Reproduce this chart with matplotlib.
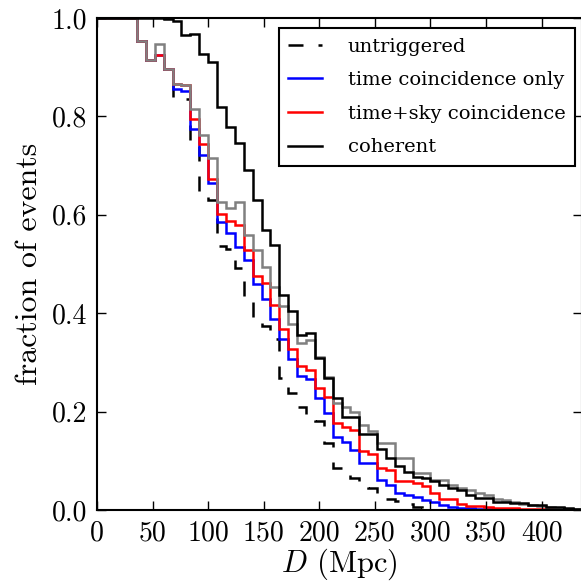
import numpy as np
import matplotlib
matplotlib.use('Agg')
import matplotlib.pyplot as plt

plt.rcParams['font.family'] = 'cmr10'
plt.rcParams['mathtext.fontset'] = 'cm'
plt.rcParams['axes.formatter.use_mathtext'] = True
plt.rcParams['lines.scale_dashes'] = False

# bin edges in Mpc (8 Mpc bins starting at 36 Mpc)
edges = np.arange(36, 437, 8)

# fraction of events still above threshold per bin
untriggered = [0.953, 0.914, 0.924, 0.897, 0.839, 0.835, 0.745, 0.637, 0.630, 0.537,
               0.531, 0.491, 0.425, 0.392, 0.375, 0.347, 0.268, 0.238, 0.209, 0.192,
               0.181, 0.136, 0.086, 0.075, 0.065, 0.052, 0.045, 0.028, 0.023, 0.019,
               0.012, 0.007, 0.004, 0.0, 0.0, 0.0, 0.0, 0.0, 0.0, 0.0,
               0.0, 0.0, 0.0, 0.0, 0.0, 0.0, 0.0, 0.0, 0.0, 0.0]
time_only = [0.953, 0.914, 0.924, 0.897, 0.855, 0.851, 0.774, 0.722, 0.665, 0.586,
             0.564, 0.535, 0.508, 0.459, 0.428, 0.388, 0.347, 0.306, 0.272, 0.266,
             0.227, 0.198, 0.149, 0.139, 0.122, 0.095, 0.095, 0.061, 0.050, 0.034,
             0.030, 0.027, 0.020, 0.016, 0.010, 0.007, 0.005, 0.004, 0.003, 0.002,
             0.001, 0.001, 0.0, 0.0, 0.0, 0.0, 0.0, 0.0, 0.0, 0.0]
time_sky = [0.953, 0.914, 0.924, 0.897, 0.866, 0.863, 0.794, 0.743, 0.673, 0.602,
            0.587, 0.579, 0.528, 0.475, 0.462, 0.417, 0.367, 0.327, 0.293, 0.285,
            0.247, 0.229, 0.176, 0.168, 0.163, 0.119, 0.114, 0.085, 0.081, 0.059,
            0.058, 0.054, 0.049, 0.034, 0.022, 0.022, 0.012, 0.008, 0.008, 0.006,
            0.005, 0.004, 0.004, 0.003, 0.002, 0.002, 0.002, 0.001, 0.001, 0.0]
gray_curve = [0.953, 0.914, 0.948, 0.897, 0.866, 0.863, 0.816, 0.762, 0.716, 0.627,
              0.613, 0.627, 0.559, 0.528, 0.494, 0.454, 0.414, 0.379, 0.339, 0.346,
              0.312, 0.270, 0.217, 0.210, 0.200, 0.173, 0.161, 0.136, 0.136, 0.105,
              0.105, 0.075, 0.075, 0.061, 0.061, 0.050, 0.044, 0.040, 0.034, 0.030,
              0.022, 0.020, 0.016, 0.013, 0.010, 0.009, 0.006, 0.005, 0.003, 0.002]
coherent = [1.0, 1.0, 1.0, 0.997, 0.993, 0.965, 0.968, 0.927, 0.911, 0.819,
            0.778, 0.745, 0.691, 0.630, 0.570, 0.539, 0.436, 0.404, 0.356, 0.360,
            0.308, 0.268, 0.227, 0.190, 0.190, 0.154, 0.154, 0.123, 0.105, 0.090,
            0.078, 0.068, 0.066, 0.058, 0.051, 0.044, 0.041, 0.030, 0.024, 0.024,
            0.017, 0.017, 0.014, 0.014, 0.010, 0.010, 0.007, 0.007, 0.005, 0.003]

xticks = [0, 50, 100, 150, 200, 250, 300, 350, 400]
yticks = [0.0, 0.2, 0.4, 0.6, 0.8, 1.0]

# everything is 1 below the first edge
full_edges = np.concatenate([[0], edges])

fig = plt.figure(figsize=(5.81, 5.83), dpi=100)
ax = fig.add_axes([0.167, 0.1252, 0.834, 0.8439])

lw = 1.8
ax.stairs([1.0] + untriggered, full_edges, baseline=None, color='k', lw=lw,
          linestyle=(0, (10.8, 10.8)), label='untriggered')
ax.stairs([1.0] + time_only, full_edges, baseline=None, color='b', lw=lw,
          label='time coincidence only')
ax.stairs([1.0] + time_sky, full_edges, baseline=None, color='r', lw=lw,
          label='time+sky coincidence')
ax.stairs([1.0] + gray_curve, full_edges, baseline=None, color='0.5', lw=lw)
ax.stairs([1.0] + coherent, full_edges, baseline=None, color='k', lw=lw,
          label='coherent')

ax.set_xlim(0, 436)
ax.set_ylim(0, 1)
ax.set_xticks(xticks)
ax.set_yticks(yticks)
ax.set_xticklabels([str(t) for t in xticks])
ax.set_yticklabels(['%.1f' % t for t in yticks])
ax.tick_params(direction='in', length=6.5, width=1, top=True, right=True,
               labelsize=20, pad=7)
for s in ax.spines.values():
    s.set_linewidth(1.5)

ax.set_xlabel('$D$ (Mpc)', fontsize=22, labelpad=0)
ax.set_ylabel('fraction of events', fontsize=23, labelpad=6)

leg = ax.legend(loc='upper right', bbox_to_anchor=(575 / 581, 1 - 28 / 583),
                bbox_transform=fig.transFigure, borderaxespad=0,
                prop={'family': 'DejaVu Serif', 'size': 14},
                handlelength=1.75, handletextpad=1.3, labelspacing=0.8,
                borderpad=0.5, fancybox=False, framealpha=1)
leg.get_frame().set_edgecolor('k')
leg.get_frame().set_linewidth(1.5)

fig.savefig('out.png', dpi=100)
